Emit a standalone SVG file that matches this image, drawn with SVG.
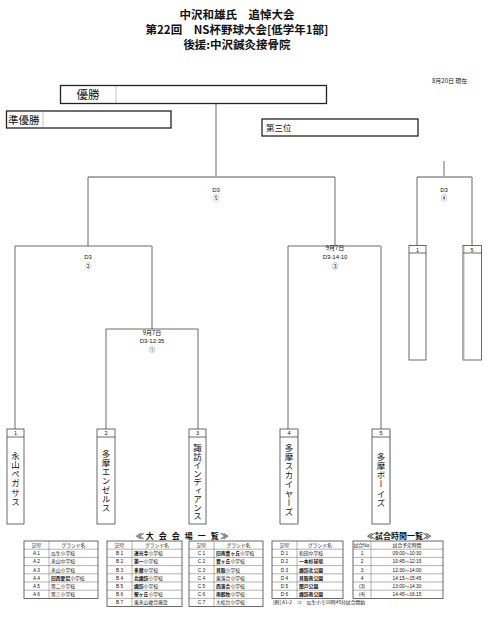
<svg xmlns="http://www.w3.org/2000/svg" width="488" height="617" viewBox="0 0 488 617">
<style>
text{font-family:"Liberation Sans","Noto Sans CJK JP",sans-serif;fill:#111}
.jp{font-family:"Noto Sans CJK JP",sans-serif}
.ti{font-size:11.5px;font-weight:bold;text-anchor:middle}
.lb{font-size:6px;text-anchor:middle}
.ln{stroke:#444;stroke-width:0.8;fill:none}
.gl{stroke:#aaa;stroke-width:1.8;fill:none}
.rb{fill:#fff;stroke:#222;stroke-width:1.3}
.tb{fill:#fff;stroke:#444;stroke-width:0.8}
.vt{font-size:8.5px;writing-mode:vertical-rl;text-orientation:upright;text-anchor:middle;letter-spacing:0.6px}
.num{font-size:5.5px;text-anchor:middle}
.tt{font-size:4.8px}
.tc{font-size:4.8px;text-anchor:middle}
.gr{stroke:#666;stroke-width:0.5}
.th{font-size:8px;font-weight:bold;text-anchor:middle}
</style>
<rect width="488" height="617" fill="#fff"/>

<g id="title">
<text class="ti jp" x="237" y="19">中沢和雄氏　追悼大会</text>
<text class="ti jp" x="237" y="34">第22回　NS杯野球大会[低学年1部]</text>
<text class="ti jp" x="237" y="48.5">後援:中沢鍼灸接骨院</text>
<text class="jp" x="432" y="83" font-size="6">8月20日 現在</text>
</g>

<g id="connectors">
<path class="gl" d="M216,103V177"/>
<path class="gl" d="M88,177H335"/>
<path class="ln" d="M88,177V246M335,177V246"/>
<path class="ln" d="M15,246H152"/>
<path class="gl" d="M152,246V329"/>
<path class="ln" d="M15,246V429"/>
<path class="ln" d="M106,329H198M106,329V429M198,329V429"/>
<path class="ln" d="M288,246H381M288,246V429"/>
<path class="gl" d="M381,246V429"/>
<path class="ln" d="M444,161V177"/>
<path class="gl" d="M417,177H472"/>
<path class="ln" d="M417,177V246"/>
<path class="gl" d="M472,177V246"/>
</g>

<g id="labels">
<text class="lb" x="216" y="192">D3</text>
<text class="lb" x="216" y="200">⑤</text>
<text class="lb" x="444" y="192">D3</text>
<text class="lb" x="444" y="200">④</text>
<text class="lb" x="88" y="259">D3</text>
<text class="lb" x="88" y="268">②</text>
<text class="lb jp" x="335" y="249.5">9月7日</text>
<text class="lb" x="335" y="259">D3-14:10</text>
<text class="lb" x="335" y="268">③</text>
<text class="lb jp" x="152" y="334.5">9月7日</text>
<text class="lb" x="152" y="343">D3-12:35</text>
<text class="lb" x="152" y="351.5">①</text>
</g>

<g id="winner">
<rect class="rb" x="60.5" y="85.5" width="266" height="18"/>
<line x1="116" y1="86" x2="116" y2="103" stroke="#999" stroke-width="0.6"/>
<text class="jp" x="88" y="98.5" font-size="11.5" text-anchor="middle">優勝</text>
</g>
<g id="runnerup">
<rect class="rb" x="6.5" y="111" width="164.5" height="17"/>
<line x1="43" y1="111.5" x2="43" y2="127.5" stroke="#999" stroke-width="0.6"/>
<text class="jp" x="8" y="123.5" font-size="10.5">準優勝</text>
</g>
<g id="third">
<rect class="rb" x="262" y="119" width="156" height="17"/>
<text class="jp" x="266" y="131" font-size="8.5">第三位</text>
</g>

<g id="seed1">
<rect class="tb" x="409" y="245.5" width="17" height="114.5"/>
<line class="ln" x1="409" y1="253" x2="426" y2="253"/>
<text class="num" x="417.5" y="251.5">1</text>
</g>
<g id="seed5">
<rect class="tb" x="463" y="245.5" width="18.5" height="114.5"/>
<line class="gl" x1="463.5" y1="246" x2="463.5" y2="360"/>
<line class="ln" x1="463" y1="253" x2="481.5" y2="253"/>
<text class="num" x="472" y="251.5">5</text>
</g>

<g id="team1">
<rect class="tb" x="7" y="429" width="17" height="95"/>
<line class="ln" x1="7" y1="437" x2="24" y2="437"/>
<text class="num" x="15.5" y="435">1</text>
<text class="vt jp" x="15.5" y="479">永山ペガサス</text>
</g>
<g id="team2">
<rect class="tb" x="97" y="429" width="18" height="95"/>
<line class="ln" x1="97" y1="437" x2="115" y2="437"/>
<text class="num" x="106" y="435">2</text>
<text class="vt jp" x="106" y="481">多摩エンゼルス</text>
</g>
<g id="team3">
<rect class="tb" x="189" y="429" width="17" height="95"/>
<line class="ln" x1="189" y1="437" x2="206" y2="437"/>
<text class="num" x="197.5" y="435">3</text>
<text class="vt jp" x="197.5" y="482" style="letter-spacing:0">諏訪インディアンス</text>
</g>
<g id="team4">
<rect class="tb" x="280" y="429" width="18" height="95"/>
<line class="gl" x1="298" y1="429" x2="298" y2="524"/>
<line class="ln" x1="280" y1="437" x2="298" y2="437"/>
<text class="num" x="289" y="435">4</text>
<text class="vt jp" x="289" y="480">多摩スカイヤーズ</text>
</g>
<g id="team5">
<rect class="tb" x="372" y="429" width="18" height="95"/>
<line class="gl" x1="390" y1="429" x2="390" y2="524"/>
<line class="ln" x1="372" y1="437" x2="390" y2="437"/>
<text class="num" x="381" y="435">5</text>
<text class="vt jp" x="381" y="480">多摩ボーイズ</text>
</g>

<g id="venue-tables">
<text class="th jp" x="183" y="538.5" style="letter-spacing:1.6px">≪大 会 会 場 一 覧≫</text>
<text class="th jp" x="399" y="538.5">≪試合時間一覧≫</text>

<!-- Table A -->
<rect class="tb" x="24" y="541" width="74" height="57.4"/>
<path class="gr" d="M49,541V598.4M24,549.2H98M24,557.4H98M24,565.6H98M24,573.8H98M24,582H98M24,590.2H98"/>
<g class="jp">
<text class="tc" x="36.5" y="546.9">記号</text><text class="tc" x="73.5" y="546.9">グランド名</text>
<text class="tc" x="36.5" y="555.1">A 1</text><text class="tt" x="51" y="555.1">瓜生小学校</text>
<text class="tc" x="36.5" y="563.3">A 2</text><text class="tt" x="51" y="563.3">永山中学校</text>
<text class="tc" x="36.5" y="571.5">A 3</text><text class="tt" x="51" y="571.5">永山小学校</text>
<text class="tc" x="36.5" y="579.7">A 4</text><text class="tt" x="51" y="579.7"><tspan font-weight="bold">旧西愛宕</tspan>小学校</text>
<text class="tc" x="36.5" y="587.9">A 5</text><text class="tt" x="51" y="587.9">第二小学校</text>
<text class="tc" x="36.5" y="596.1">A 6</text><text class="tt" x="51" y="596.1">第三小学校</text>
</g>

<!-- Table B -->
<rect class="tb" x="107" y="541" width="75" height="65.6"/>
<path class="gr" d="M132,541V606.6M107,549.2H182M107,557.4H182M107,565.6H182M107,573.8H182M107,582H182M107,590.2H182M107,598.4H182"/>
<g class="jp">
<text class="tc" x="119.5" y="546.9">記号</text><text class="tc" x="157" y="546.9">グランド名</text>
<text class="tc" x="119.5" y="555.1">B 1</text><text class="tt" x="134" y="555.1"><tspan font-weight="bold">連光寺</tspan>小学校</text>
<text class="tc" x="119.5" y="563.3">B 2</text><text class="tt" x="134" y="563.3"><tspan font-weight="bold">第一</tspan>小学校</text>
<text class="tc" x="119.5" y="571.5">B 3</text><text class="tt" x="134" y="571.5"><tspan font-weight="bold">多摩</tspan>中学校</text>
<text class="tc" x="119.5" y="579.7">B 4</text><text class="tt" x="134" y="579.7"><tspan font-weight="bold">北諏訪</tspan>小学校</text>
<text class="tc" x="119.5" y="587.9">B 5</text><text class="tt" x="134" y="587.9"><tspan font-weight="bold">諏訪</tspan>小学校</text>
<text class="tc" x="119.5" y="596.1">B 6</text><text class="tt" x="134" y="596.1"><tspan font-weight="bold">聖ヶ丘</tspan>小学校</text>
<text class="tc" x="119.5" y="604.3">B 7</text><text class="tt" x="134" y="604.3">東永山複合施設</text>
</g>

<!-- Table C -->
<rect class="tb" x="189" y="541" width="74" height="65.6"/>
<path class="gr" d="M214,541V606.6M189,549.2H263M189,557.4H263M189,565.6H263M189,573.8H263M189,582H263M189,590.2H263M189,598.4H263"/>
<g class="jp">
<text class="tc" x="201.5" y="546.9">記号</text><text class="tc" x="238.5" y="546.9">グランド名</text>
<text class="tc" x="201.5" y="555.1">C 1</text><text class="tt" x="216" y="555.1"><tspan font-weight="bold">旧南豊ヶ丘</tspan>小学校</text>
<text class="tc" x="201.5" y="563.3">C 2</text><text class="tt" x="216" y="563.3"><tspan font-weight="bold">豊ヶ丘</tspan>小学校</text>
<text class="tc" x="201.5" y="571.5">C 3</text><text class="tt" x="216" y="571.5"><tspan font-weight="bold">貝取</tspan>小学校</text>
<text class="tc" x="201.5" y="579.7">C 4</text><text class="tt" x="216" y="579.7">東落合小学校</text>
<text class="tc" x="201.5" y="587.9">C 5</text><text class="tt" x="216" y="587.9"><tspan font-weight="bold">西落合</tspan>小学校</text>
<text class="tc" x="201.5" y="596.1">C 6</text><text class="tt" x="216" y="596.1"><tspan font-weight="bold">南鶴牧</tspan>小学校</text>
<text class="tc" x="201.5" y="604.3">C 7</text><text class="tt" x="216" y="604.3">大松台小学校</text>
</g>

<!-- Table D -->
<rect class="tb" x="272" y="541" width="71" height="57.4"/>
<path class="gr" d="M297,541V598.4M272,549.2H343M272,557.4H343M272,565.6H343M272,573.8H343M272,582H343M272,590.2H343"/>
<g class="jp">
<text class="tc" x="284.5" y="546.9">記号</text><text class="tc" x="320" y="546.9">グランド名</text>
<text class="tc" x="284.5" y="555.1">D 1</text><text class="tt" x="299" y="555.1">和田中学校</text>
<text class="tc" x="284.5" y="563.3">D 2</text><text class="tt" x="299" y="563.3" font-weight="bold">一本杉球場</text>
<text class="tc" x="284.5" y="571.5">D 3</text><text class="tt" x="299" y="571.5" font-weight="bold">諏訪北公園</text>
<text class="tc" x="284.5" y="579.7">D 4</text><text class="tt" x="299" y="579.7" font-weight="bold">貝取南公園</text>
<text class="tc" x="284.5" y="587.9">D 5</text><text class="tt" x="299" y="587.9" font-weight="bold">関戸公園</text>
<text class="tc" x="284.5" y="596.1">D 6</text><text class="tt" x="299" y="596.1" font-weight="bold">諏訪南公園</text>
</g>
<text class="tt jp" x="273" y="604.3">[例] A1-2　⇒　瓜生小で10時45分試合開始</text>

<!-- Table E -->
<rect class="tb" x="353" y="541" width="90" height="57.4"/>
<path class="gr" d="M371,541V598.4M353,549.2H443M353,557.4H443M353,565.6H443M353,573.8H443M353,582H443M353,590.2H443"/>
<g class="jp">
<text class="tc" x="362" y="546.9">試合No.</text><text class="tc" x="407" y="546.9">試合予定時間</text>
<text class="tc" x="362" y="555.1">1</text><text class="tc" x="407" y="555.1">09:00～10:30</text>
<text class="tc" x="362" y="563.3">2</text><text class="tc" x="407" y="563.3">10:45～12:15</text>
<text class="tc" x="362" y="571.5">3</text><text class="tc" x="407" y="571.5">12:30～14:00</text>
<text class="tc" x="362" y="579.7">4</text><text class="tc" x="407" y="579.7">14:15～15:45</text>
<text class="tc" x="362" y="587.9">(3)</text><text class="tc" x="407" y="587.9">13:00～14:30</text>
<text class="tc" x="362" y="596.1">(4)</text><text class="tc" x="407" y="596.1">14:45～16:15</text>
</g>
</g>
</svg>
